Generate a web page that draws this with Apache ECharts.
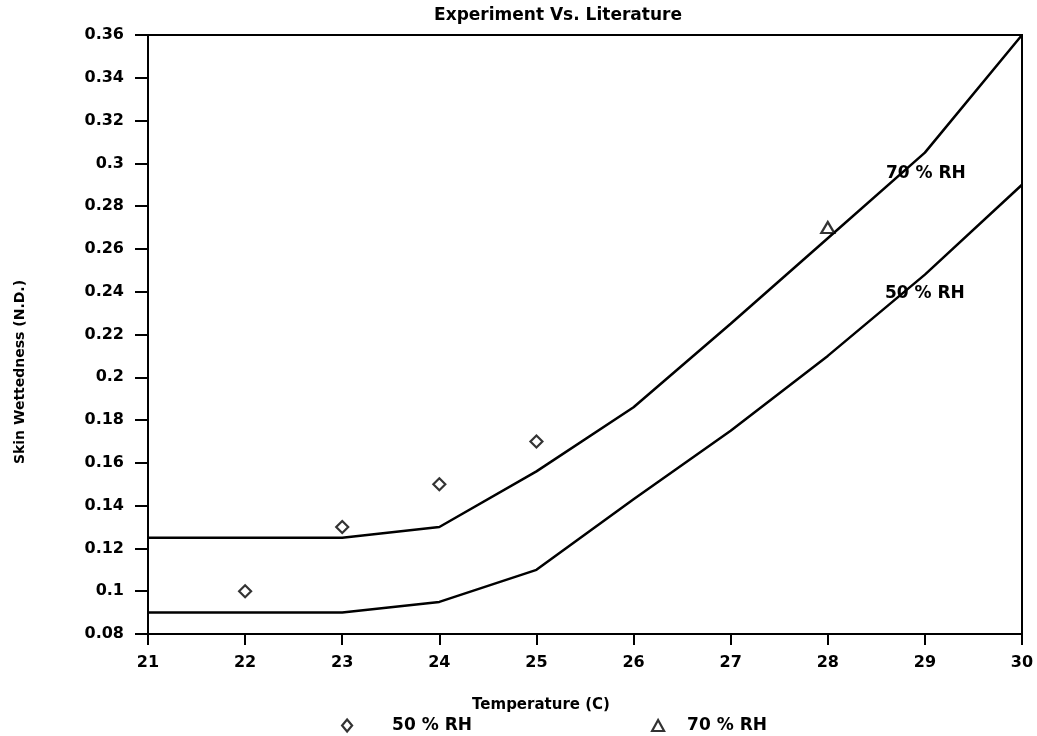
<!DOCTYPE html>
<html><head><meta charset="utf-8">
<script src="https://cdn.jsdelivr.net/npm/echarts@6/dist/echarts.min.js"></script>
<style>html,body{margin:0;padding:0;background:#fff}#c{width:1037px;height:736px}</style>
</head><body><div id="c"></div>
<script>
const temps = [21, 22, 23, 24, 25, 26, 27, 28, 29, 30];
const lit50 = [0.09, 0.09, 0.09, 0.095, 0.11, 0.143, 0.175, 0.21, 0.248, 0.29];
const lit70 = [0.125, 0.125, 0.125, 0.13, 0.156, 0.186, 0.225, 0.265, 0.305, 0.36];
const exp50T = [22, 23, 24, 25];
const exp50V = [0.10, 0.13, 0.15, 0.17];
const exp70T = [28];
const exp70V = [0.27];
const xTicks = [21, 30, 1];
const yTicks = [0.08, 0.36, 0.02];

const F = 'DejaVu Sans';
const zip = (a, b) => a.map((v, i) => [v, b[i]]);
const hollow = { color: '#fff', borderColor: '#000', borderWidth: 2.2 };
const chart = echarts.init(document.getElementById('c'));
chart.setOption({
  backgroundColor: '#fff',
  animation: false,
  title: { text: 'Experiment Vs. Literature', left: 553, top: 2, textAlign: 'center',
    textStyle: { fontFamily: F, fontSize: 17, fontWeight: 'bold', color: '#000' } },
  grid: { left: 148, right: 15, top: 35, bottom: 102, show: true, borderColor: '#000', borderWidth: 2, backgroundColor: 'transparent' },
  xAxis: { type: 'value', min: xTicks[0], max: xTicks[1], interval: xTicks[2],
    axisLine: { lineStyle: { color: '#000', width: 2 } },
    axisTick: { length: 11, lineStyle: { color: '#000', width: 2 } },
    axisLabel: { margin: 21, fontFamily: F, fontSize: 16, fontWeight: 'bold', color: '#000' },
    splitLine: { show: false } },
  yAxis: { type: 'value', min: yTicks[0], max: yTicks[1], interval: yTicks[2],
    axisLine: { show: true, lineStyle: { color: '#000', width: 2 } },
    axisTick: { show: true, length: 13, lineStyle: { color: '#000', width: 2 } },
    axisLabel: { margin: 24, fontFamily: F, fontSize: 16, fontWeight: 'bold', color: '#000',
      formatter: v => String(parseFloat(v.toFixed(2))) },
    splitLine: { show: false } },
  graphic: [
    { type: 'text', x: 20, y: 372, rotation: Math.PI / 2,
      style: { text: 'Skin Wettedness (N.D.)', font: 'bold 14px "DejaVu Sans"', fill: '#000', align: 'center', verticalAlign: 'middle' } },
    { type: 'text', x: 541, y: 705,
      style: { text: 'Temperature (C)', font: 'bold 15px "DejaVu Sans"', fill: '#000', align: 'center', verticalAlign: 'middle' } }
  ],
  legend: [
    { left: 336, top: 712, itemWidth: 10, itemHeight: 12,
      data: [{ name: '50 % RH', icon: 'diamond', itemStyle: hollow }],
      textStyle: { fontFamily: F, fontSize: 17, fontWeight: 'bold', color: '#000', padding: [0, 0, 0, 35] } },
    { left: 646, top: 712, itemWidth: 12, itemHeight: 11,
      data: [{ name: '70 % RH', icon: 'triangle', itemStyle: hollow }],
      textStyle: { fontFamily: F, fontSize: 17, fontWeight: 'bold', color: '#000', padding: [0, 0, 0, 18] } }
  ],
  series: [
    { name: 'lit50', type: 'line', data: zip(temps, lit50), showSymbol: false, silent: true,
      lineStyle: { color: '#000', width: 2.5 }, z: 2,
      markPoint: { symbol: 'rect', symbolSize: 1, itemStyle: { color: 'transparent' },
        label: { show: true, formatter: '50 % RH', fontFamily: F, fontSize: 17, fontWeight: 'bold', color: '#000' },
        data: [{ coord: [29.0, 0.2389] }] } },
    { name: 'lit70', type: 'line', data: zip(temps, lit70), showSymbol: false, silent: true,
      lineStyle: { color: '#000', width: 2.5 }, z: 2,
      markPoint: { symbol: 'rect', symbolSize: 1, itemStyle: { color: 'transparent' },
        label: { show: true, formatter: '70 % RH', fontFamily: F, fontSize: 17, fontWeight: 'bold', color: '#000' },
        data: [{ coord: [29.01, 0.295] }] } },
    { name: '50 % RH', type: 'scatter', data: zip(exp50T, exp50V), symbol: 'diamond', symbolSize: 12,
      itemStyle: hollow, z: 3 },
    { name: '70 % RH', type: 'scatter', data: zip(exp70T, exp70V), symbol: 'triangle', symbolSize: [13, 11],
      itemStyle: hollow, z: 3 }
  ]
});
</script></body></html>
